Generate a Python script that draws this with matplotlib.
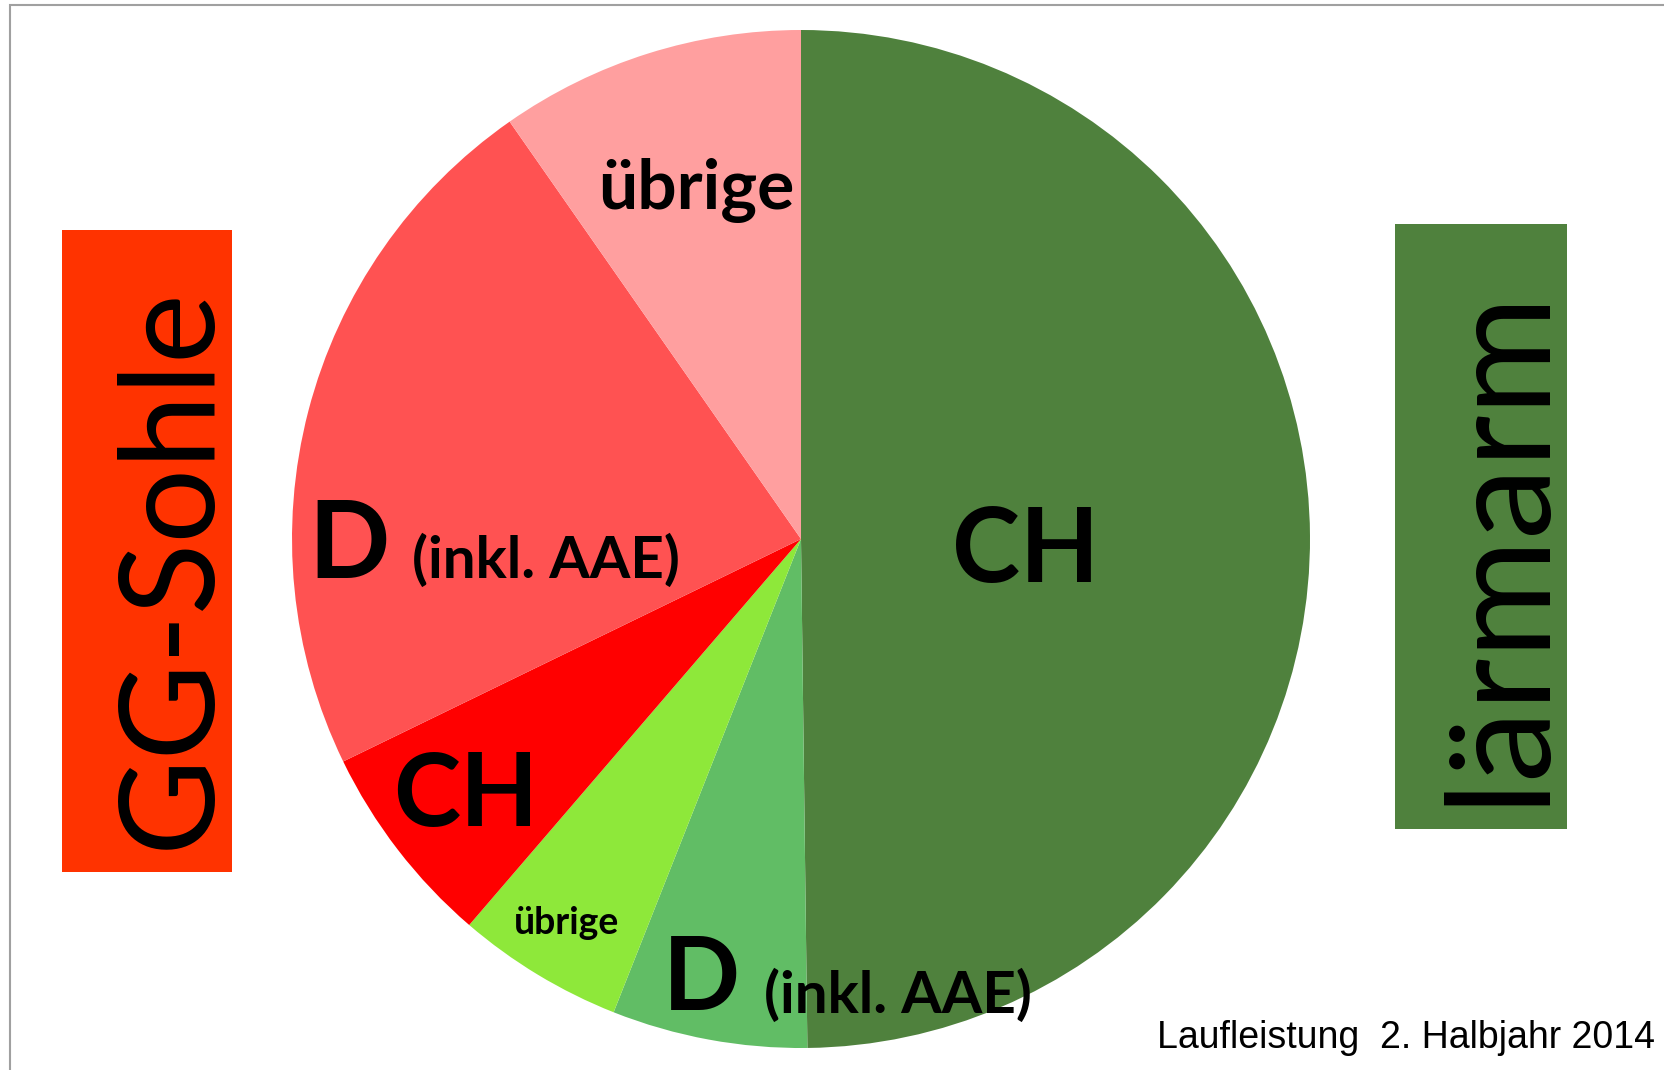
import matplotlib
matplotlib.use("Agg")
import matplotlib.pyplot as plt
from matplotlib.patches import Rectangle

# data: share of mileage, clockwise from 12 o'clock
labels = ["CH lärmarm", "D lärmarm", "übrige lärmarm", "CH GG-Sohle", "D GG-Sohle", "übrige GG-Sohle"]
shares = [49.8, 6.2, 5.3, 6.5, 22.5, 9.7]
colors = ["#4F813D", "#61BD65", "#8EE83A", "#FF0000", "#FF5252", "#FF9F9F"]

W, H = 1664, 1070
fig = plt.figure(figsize=(W / 100, H / 100), dpi=100)
ax = fig.add_axes([0, 0, 1, 1])

def Y(y):
    # convert top-based pixel y to axes y
    return H - y

ax.pie(shares, colors=colors, startangle=90, counterclock=False,
       center=(801, Y(539)), radius=509, wedgeprops=dict(linewidth=0))
ax.set_xlim(0, W)
ax.set_ylim(0, H)
ax.set_aspect("equal")
ax.axis("off")

# frame
ax.add_patch(Rectangle((10, Y(1100)), 1700, 1095, fill=False, edgecolor="#A0A0A0", linewidth=1.5))

# side boxes
ax.add_patch(Rectangle((62, Y(872)), 170, 642, facecolor="#FF3300", edgecolor="none"))
ax.add_patch(Rectangle((1395, Y(829)), 172, 605, facecolor="#4F813D", edgecolor="none"))
ax.text(209, Y(568), "GG-Sohle", rotation=90, rotation_mode="anchor", ha="center", va="baseline",
        fontsize=95, family="Lato", color="black")
ax.text(1540, Y(545), "lärmarm", rotation=90, rotation_mode="anchor", ha="center", va="baseline",
        fontsize=104, family="Lato", color="black")

bold = dict(family="Lato", fontweight="bold", color="black")
ax.text(696, Y(209), "übrige", ha="center", va="baseline", fontsize=50, **bold)
ax.text(308, Y(578), "D", ha="left", va="baseline", fontsize=77, **bold)
ax.text(412, Y(578), "(inkl. AAE)", ha="left", va="baseline", fontsize=42, **bold)
ax.text(952, Y(582), "CH", ha="left", va="baseline", fontsize=74, **bold)
ax.text(393, Y(826), "CH", ha="left", va="baseline", fontsize=73, **bold)
ax.text(514, Y(934), "übrige", ha="left", va="baseline", fontsize=27, **bold)
ax.text(663, Y(1010), "D", ha="left", va="baseline", fontsize=73, **bold)
ax.text(764, Y(1013), "(inkl. AAE)", ha="left", va="baseline", fontsize=42, **bold)

ax.text(1655, Y(1048), "Laufleistung  2. Halbjahr 2014", ha="right", va="baseline",
        fontsize=27, family="Liberation Sans", color="black")

fig.savefig("out.png", dpi=100)
